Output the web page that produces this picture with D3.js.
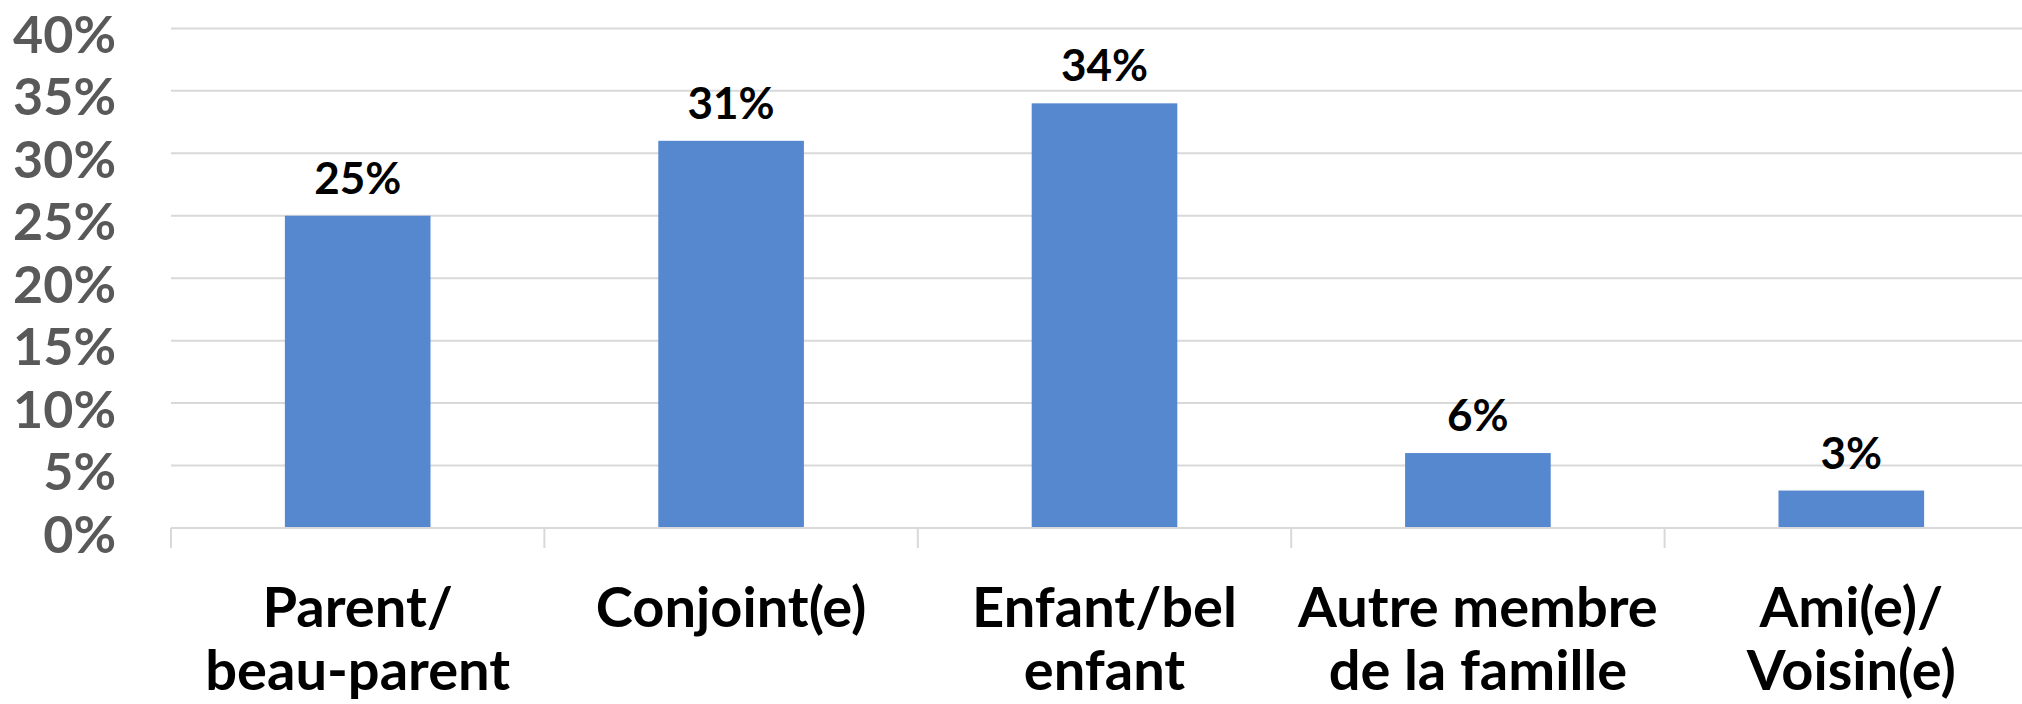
<!DOCTYPE html>
<html>
<head>
<meta charset="utf-8">
<script src="https://cdn.jsdelivr.net/npm/d3@7"></script>
<style>
  html, body { margin: 0; padding: 0; background: #ffffff; overflow: hidden; }
  svg { display: block; }
</style>
</head>
<body>
<svg id="chart" width="2022" height="704"></svg>
<script>
// ---- data ----
const categories = ["Parent/ beau-parent", "Conjoint(e)", "Enfant/bel enfant", "Autre membre de la famille", "Ami(e)/ Voisin(e)"];
const categoryLines = [["Parent/", "beau-parent"], ["Conjoint(e)"], ["Enfant/bel", "enfant"], ["Autre membre", "de la famille"], ["Ami(e)/", "Voisin(e)"]];
const values = [25, 31, 34, 6, 3];
const yTicks = [0, 5, 10, 15, 20, 25, 30, 35, 40];
const yTickLabels = ["0%", "5%", "10%", "15%", "20%", "25%", "30%", "35%", "40%"];

// ---- layout ----
const W = 2022, H = 704;
const plotLeft = 171, plotRight = 2038, plotTop = 28.4, plotBottom = 528;
const font = "Lato, 'Open Sans', sans-serif";

const svg = d3.select("#chart");

const x = d3.scaleBand().domain(categories).range([plotLeft, plotRight]).padding(0);
const y = d3.scaleLinear().domain([0, 40]).range([plotBottom, plotTop]);
const barW = x.bandwidth() * 0.39;

// gridlines
svg.append("g").selectAll("line").data(yTicks.filter(d => d > 0)).join("line")
  .attr("x1", plotLeft).attr("x2", W)
  .attr("y1", d => y(d)).attr("y2", d => y(d))
  .attr("stroke", "#d9d9d9").attr("stroke-width", 2);

// bars
svg.append("g").selectAll("rect").data(values).join("rect")
  .attr("x", (d, i) => x(categories[i]) + (x.bandwidth() - barW) / 2)
  .attr("width", barW)
  .attr("y", d => y(d))
  .attr("height", d => y(0) - y(d))
  .attr("fill", "#5588cf");

// x axis baseline & ticks at category boundaries
svg.append("g").selectAll("line").data(categories).join("line")
  .attr("x1", d => x(d)).attr("x2", d => x(d))
  .attr("y1", y(0)).attr("y2", y(0) + 20)
  .attr("stroke", "#d9d9d9").attr("stroke-width", 2);
svg.append("line").attr("x1", plotLeft).attr("x2", W).attr("y1", y(0)).attr("y2", y(0))
  .attr("stroke", "#d9d9d9").attr("stroke-width", 2);

// y axis labels
const yAxis = d3.axisLeft(y).tickValues(yTicks).tickSize(0).tickPadding(0)
  .tickFormat((d, i) => yTickLabels[i]);
const gy = svg.append("g").attr("transform", `translate(116,0)`).call(yAxis);
gy.select(".domain").remove();
gy.selectAll("text")
  .attr("dy", null).attr("y", 24).attr("x", 0)
  .attr("text-anchor", "end")
  .style("font-family", font).style("font-weight", "bold")
  .style("font-size", "52px").attr("fill", "#595959");

// data labels
svg.append("g").selectAll("text").data(values).join("text")
  .attr("x", (d, i) => x(categories[i]) + x.bandwidth() / 2)
  .attr("y", d => y(d) - 22)
  .attr("text-anchor", "middle")
  .style("font-family", font).style("font-weight", "bold").style("font-size", "44px")
  .attr("fill", "#000000")
  .text(d => d + "%");

// category labels
const cl = svg.append("g").selectAll("text").data(categories).join("text")
  .attr("text-anchor", "middle")
  .style("font-family", font).style("font-weight", "bold").style("font-size", "56px")
  .attr("fill", "#000000");
cl.each(function (d, i) {
  const t = d3.select(this);
  categoryLines[i].forEach((line, j) => {
    t.append("tspan")
      .attr("x", x(d) + x.bandwidth() / 2)
      .attr("y", 627 + j * 63)
      .text(line);
  });
});
</script>
</body>
</html>
